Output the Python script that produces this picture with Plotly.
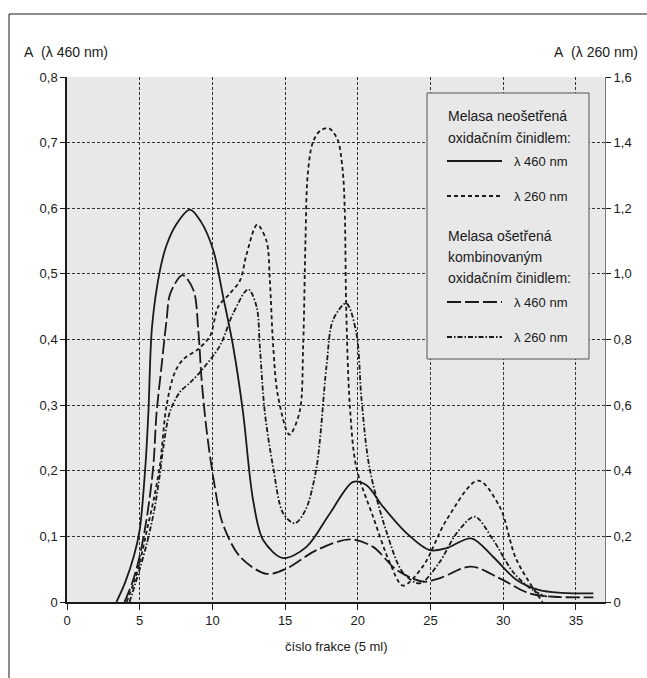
import plotly.graph_objects as go

# ---------------- data ----------------
# Melasa neošetřená oxidačním činidlem, λ 460 nm (left axis)
neo460_x = [3.4, 4.0, 4.6, 5.0, 5.4, 5.6, 5.85, 6.4, 6.85, 7.5, 8.45, 9.2, 10.06, 10.74, 11.43,
            12.1, 12.8, 13.5, 14.87, 16.47, 18.08, 19.68, 20.6, 21.74, 23.35, 24.95, 26.1,
            27.8, 29.3, 30.9, 32.5, 34.0, 36.2]
neo460_y = [0, 0.03, 0.07, 0.11, 0.21, 0.29, 0.42, 0.506, 0.544, 0.575, 0.598, 0.58, 0.536,
            0.465, 0.389, 0.29, 0.155, 0.094, 0.067, 0.084, 0.135, 0.183, 0.178, 0.145, 0.105,
            0.079, 0.082, 0.097, 0.069, 0.034, 0.018, 0.014, 0.013]

# Melasa neošetřená oxidačním činidlem, λ 260 nm (right axis)
neo260_x = [4.1, 4.6, 5.0, 5.5, 6.0, 6.4, 6.85, 7.42, 8.0, 9.0, 9.83, 10.4, 11.2, 11.9, 12.35,
            13.08, 13.72, 13.95, 14.18, 14.5, 15.3, 16.0, 16.24, 16.4, 16.55, 16.9, 17.4, 18.0,
            18.6, 18.95, 19.1, 19.2, 19.45, 19.9, 21.05, 22.2, 23.1, 24.5, 26.1, 28.27, 29.76,
            30.9, 32.7]
neo260_y = [0, 0.06, 0.12, 0.22, 0.32, 0.42, 0.60, 0.70, 0.74, 0.77, 0.81, 0.90, 0.94, 0.98,
            1.06, 1.15, 1.10, 0.98, 0.78, 0.63, 0.51, 0.58, 0.78, 1.10, 1.30, 1.40, 1.436, 1.444,
            1.41, 1.32, 1.20, 0.90, 0.60, 0.41, 0.26, 0.12, 0.05, 0.11, 0.25, 0.37, 0.29, 0.13, 0.0]

# Melasa ošetřená kombinovaným oxidačním činidlem, λ 460 nm (left axis)
kom460_x = [3.95, 4.5, 5.0, 5.5, 5.93, 6.16, 6.5, 6.85, 7.1, 7.95, 8.7, 9.03, 9.26, 9.6, 10.06,
            10.7, 11.9, 13.7, 15.1, 17.16, 19.45, 21.05, 22.66, 24.5, 25.6, 27.8, 29.76, 31.8,
            33.5, 36.2]
kom460_y = [0, 0.03, 0.07, 0.13, 0.206, 0.288, 0.359, 0.43, 0.47, 0.498, 0.475, 0.414, 0.338,
            0.262, 0.19, 0.12, 0.069, 0.043, 0.051, 0.079, 0.0955, 0.084, 0.049, 0.031, 0.036,
            0.054, 0.036, 0.013, 0.008, 0.007]

# Melasa ošetřená kombinovaným oxidačním činidlem, λ 260 nm (right axis)
kom260_x = [4.3, 5.0, 5.5, 6.0, 6.39, 6.62, 7.08, 7.77, 8.5, 9.14, 10.5, 11.43, 12.46, 13.04,
            13.26, 13.6, 14.18, 14.87, 15.67, 16.4, 17.16, 17.85, 18.3, 19.2, 19.9, 20.25, 20.8,
            22.0, 23.1, 24.26, 25.6, 26.8, 28.04, 29.3, 30.7, 32.05, 33.0]
kom260_y = [0, 0.10, 0.18, 0.28, 0.39, 0.47, 0.58, 0.64, 0.67, 0.70, 0.78, 0.88, 0.953, 0.90,
            0.78, 0.58, 0.41, 0.27, 0.24, 0.28, 0.41, 0.72, 0.86, 0.91, 0.82, 0.62, 0.41, 0.21,
            0.09, 0.057, 0.12, 0.21, 0.26, 0.19, 0.09, 0.036, 0.016]

x_ticks = [0, 5, 10, 15, 20, 25, 30, 35]
y_left_ticks = [0, 0.1, 0.2, 0.3, 0.4, 0.5, 0.6, 0.7, 0.8]
y_left_labels = ["0", "0,1", "0,2", "0,3", "0,4", "0,5", "0,6", "0,7", "0,8"]
y_right_ticks = [0, 0.2, 0.4, 0.6, 0.8, 1.0, 1.2, 1.4, 1.6]
y_right_labels = ["0", "0,2", "0,4", "0,6", "0,8", "1,0", "1,2", "1,4", "1,6"]

group1_title = ["Melasa neošetřená", "oxidačním činidlem:"]
group2_title = ["Melasa ošetřená", "kombinovaným", "oxidačním činidlem:"]
label460 = "λ 460 nm"
label260 = "λ 260 nm"
title_left = "A\u00a0\u00a0(λ 460 nm)"
title_right = "A\u00a0\u00a0(λ 260 nm)"
title_x = "číslo frakce (5 ml)"

# ---------------- style ----------------
FONT = "Liberation Sans Narrow, Arial Narrow, Liberation Sans, Arial, sans-serif"
INK = "#1a1a1a"
W, H = 647, 678
L, R, T, B = 67, 605, 77, 602  # plot area in pixels

DASH_SHORT = "4px,3px"
DASH_LONG = "14px,4px"
DASH_DOT = "5px,2px,1.5px,2px"


def px(x):
    return (x - L) / (R - L)


def py(y):
    return (B - y) / (B - T)


fig = go.Figure()
line_w = 1.8
fig.add_trace(go.Scatter(x=neo460_x, y=neo460_y, mode="lines", yaxis="y",
                         line=dict(color=INK, width=line_w, shape="spline", smoothing=0.9),
                         showlegend=False))
fig.add_trace(go.Scatter(x=neo260_x, y=neo260_y, mode="lines", yaxis="y2",
                         line=dict(color=INK, width=line_w, dash=DASH_SHORT, shape="spline", smoothing=0.9),
                         showlegend=False))
fig.add_trace(go.Scatter(x=kom460_x, y=kom460_y, mode="lines", yaxis="y",
                         line=dict(color=INK, width=line_w, dash=DASH_LONG, shape="spline", smoothing=0.9),
                         showlegend=False))
fig.add_trace(go.Scatter(x=kom260_x, y=kom260_y, mode="lines", yaxis="y2",
                         line=dict(color=INK, width=line_w, dash=DASH_DOT, shape="spline", smoothing=0.9),
                         showlegend=False))

grid = dict(showgrid=True, gridcolor="#333333", gridwidth=1, griddash="3px,2px")
fig.update_layout(
    width=W, height=H,
    margin=dict(l=L, r=W - R, t=T, b=H - B),
    paper_bgcolor="white", plot_bgcolor="#e8e8e8",
    separators=", ",
    font=dict(family=FONT, size=13, color=INK),
    xaxis=dict(range=[0, 37], tickvals=x_ticks, ticks="outside", ticklen=6, tickcolor=INK,
               showline=True, linecolor=INK, linewidth=1.5, zeroline=False, mirror=False,
               tickfont=dict(size=13), **grid),
    yaxis=dict(range=[0, 0.8], tickvals=y_left_ticks, ticktext=y_left_labels, ticks="outside",
               ticklen=5, tickcolor=INK, showline=True, linecolor=INK, linewidth=1.5,
               zeroline=False, tickfont=dict(size=13), **grid),
    yaxis2=dict(range=[0, 1.6], tickvals=y_right_ticks, ticktext=y_right_labels, overlaying="y",
                side="right", ticks="outside", ticklen=5, tickcolor=INK, showline=True,
                linecolor="#777777", linewidth=1, zeroline=False, showgrid=False,
                tickfont=dict(size=13)),
)

shapes = []
# outer frame (top and left edge)
shapes.append(dict(type="line", xref="paper", yref="paper", x0=px(9), x1=px(W + 5), y0=py(14), y1=py(14),
                   line=dict(color=INK, width=1)))
shapes.append(dict(type="line", xref="paper", yref="paper", x0=px(9), x1=px(9), y0=py(14), y1=py(H + 5),
                   line=dict(color=INK, width=1)))
# legend box
shapes.append(dict(type="rect", xref="paper", yref="paper", x0=px(427), x1=px(589), y0=py(93), y1=py(359),
                   fillcolor="#e8e8e8", line=dict(color="#555555", width=1), layer="above"))
# legend samples
for ypix, dash in [(161, "solid"), (196, DASH_SHORT), (302, DASH_LONG), (337, DASH_DOT)]:
    shapes.append(dict(type="line", xref="paper", yref="paper", x0=px(447), x1=px(502),
                       y0=py(ypix), y1=py(ypix), line=dict(color=INK, width=line_w, dash=dash),
                       layer="above"))
fig.update_layout(shapes=shapes)

ann = []


def text(s, xpix, ypix, xanchor="left", size=13):
    ann.append(dict(text=s, x=px(xpix), y=py(ypix), xref="paper", yref="paper", showarrow=False,
                    xanchor=xanchor, yanchor="middle", font=dict(family=FONT, size=size, color=INK)))


text(title_left, 22, 52, size=14)
text(title_right, 640, 52, xanchor="right", size=14)
text(title_x, 336, 646, xanchor="center")

text(group1_title[0], 446, 116, size=14)
text(group1_title[1], 446, 138, size=14)
text(label460, 512, 161)
text(label260, 512, 196)
text(group2_title[0], 446, 236, size=14)
text(group2_title[1], 446, 257, size=14)
text(group2_title[2], 446, 278, size=14)
text(label460, 512, 302)
text(label260, 512, 337)
fig.update_layout(annotations=ann)

fig.write_html("out.html", config={"displayModeBar": False},
               post_script="document.body.style.margin='0';document.body.style.padding='0';")
